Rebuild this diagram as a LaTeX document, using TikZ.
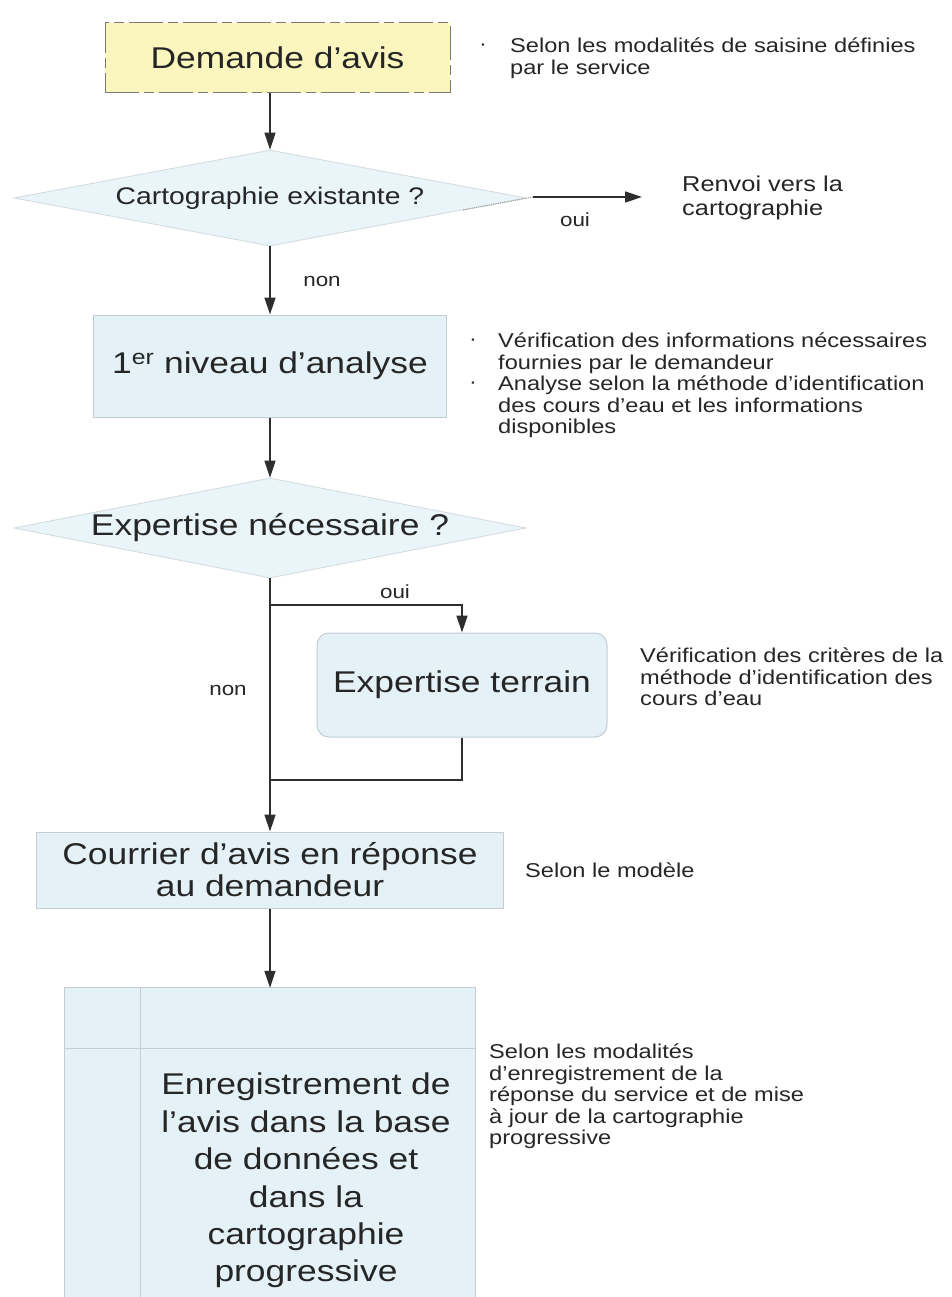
\documentclass[tikz,border=0pt]{standalone}
\usepackage{fontspec}
\setmainfont[FakeStretch=1.18]{Liberation Sans}
\usetikzlibrary{shapes.geometric,arrows.meta}
\definecolor{txt}{HTML}{262626}
\definecolor{boxfill}{HTML}{E4F2F8}
\definecolor{boxline}{HTML}{C4CDD2}
\definecolor{diafill}{HTML}{EAF5F9}
\definecolor{diline}{HTML}{D2DADE}
\definecolor{yel}{HTML}{FAF6BE}
\definecolor{yelline}{HTML}{7A7A70}
\definecolor{conn}{HTML}{2E2E2E}
\begin{document}
\begin{tikzpicture}[x=1pt,y=-1pt,
  bigtext/.style={font=\fontsize{30}{34}\selectfont, text=txt, align=center},
  procbox/.style={bigtext, rectangle, fill=boxfill, draw=boxline, line width=1pt, inner sep=0pt},
  decision/.style={diamond, fill=diafill, draw=diline, line width=0.8pt, inner sep=0pt, text=txt, align=center},
  note/.style={font=\fontsize{20}{21.5}\selectfont, text=txt, align=left, anchor=north west, inner sep=0pt},
  bul/.style={font=\fontsize{20}{20}\selectfont, text=txt, inner sep=0pt},
  lbl/.style={font=\fontsize{19}{22}\selectfont, text=txt, inner sep=0pt},
  flow/.style={draw=conn, line width=1.4pt, -{Triangle[length=17pt,width=11pt]}},
  link/.style={draw=conn, line width=1.4pt}
]
\useasboundingbox[fill=white] (0,0) rectangle (952,1297);

% --- main nodes ---
\node[procbox, fill=yel, draw=yelline, dash pattern=on 34pt off 5pt on 10pt off 5pt,
      minimum width=345, minimum height=70] (dem) at (277.5,58) {Demande d’avis};
\node[decision, aspect=5.33, minimum width=512, minimum height=96, font=\fontsize{24}{28}\selectfont]
      (cart) at (270,198) {Cartographie existante ?};
\node[procbox, minimum width=353, minimum height=102] (un) at (270,366)
      {1\textsuperscript{er} niveau d’analyse};
\node[decision, bigtext, aspect=5.12, minimum width=512, minimum height=100] (exp) at (270,528)
      {Expertise nécessaire ?};
\node[procbox, rounded corners=12pt, minimum width=290, minimum height=104] (ter) at (462,685)
      {Expertise terrain};
\node[procbox, font=\fontsize{30}{32}\selectfont, minimum width=467, minimum height=76] (cour) at (270,870)
      {Courrier d’avis en réponse\\au demandeur};
\node[fill=boxfill, minimum width=410, minimum height=309, inner sep=0pt] (big) at (270,1142.5) {};
\draw[boxline, line width=1pt] (big.south west) -- (big.north west) -- (big.north east) -- (big.south east);
\draw[boxline, line width=1pt] (big.north west -| 140,0) -- (big.south west -| 140,0);
\draw[boxline, line width=1pt] (big.west |- 0,1048) -- (big.east |- 0,1048);
\node[bigtext, font=\fontsize{30}{37.4}\selectfont, anchor=north, inner sep=0pt] (bigtxt) at (306,1073)
      {Enregistrement de\\l’avis dans la base\\de données et\\dans la\\cartographie\\progressive};

% --- renvoi ---
\node[note, font=\fontsize{21.5}{24}\selectfont] (renvoi) at (682,176) {Renvoi vers la\\cartographie};
\coordinate (c1) at (463,210);
\coordinate (c2) at (533,197);
\coordinate (c3) at (642,197);
\draw[gray!70, densely dotted, line width=1.2pt] (c1) -- (c2);
\draw[flow] (c2) -- (c3);
\node[lbl] (oui1) at (575,220) {oui};

% --- connectors ---
\draw[flow] (dem.south -| cart.north) -- (cart.north);
\draw[flow] (cart.south) -- (un.north);
\node[lbl] (non1) at (322,281) {non};
\draw[flow] (un.south) -- (exp.north);
\draw[flow] (exp.south) -- (cour.north);
\coordinate (b1) at (270,605);
\coordinate (b2) at (270,780);
\draw[flow] (b1) -| (ter.north);
\draw[link] (ter.south) |- (b2);
\node[lbl] (oui2) at (395,592) {oui};
\node[lbl] (non2) at (228,690) {non};
\draw[flow] (cour.south) -- (big.north);

% --- side notes ---
\node[bul] (d1) at (483,47) {·};
\node[note] (n1) at (510,37.6) {Selon les modalités de saisine définies\\par le service};
\node[bul] (d2) at (473,342) {·};
\node[note] (n2a) at (498,332.6) {Vérification des informations nécessaires\\fournies par le demandeur};
\node[bul] (d3) at (473,385) {·};
\node[note] (n2b) at (498,375.6) {Analyse selon la méthode d’identification\\des cours d’eau et les informations\\disponibles};
\node[note] (n3) at (640,647.6) {Vérification des critères de la\\méthode d’identification des\\cours d’eau};
\node[note, anchor=west] (n4) at (525,870) {Selon le modèle};
\node[note] (n5) at (489,1043.6) {Selon les modalités\\d’enregistrement de la\\réponse du service et de mise\\à jour de la cartographie\\progressive};
\end{tikzpicture}
\end{document}
